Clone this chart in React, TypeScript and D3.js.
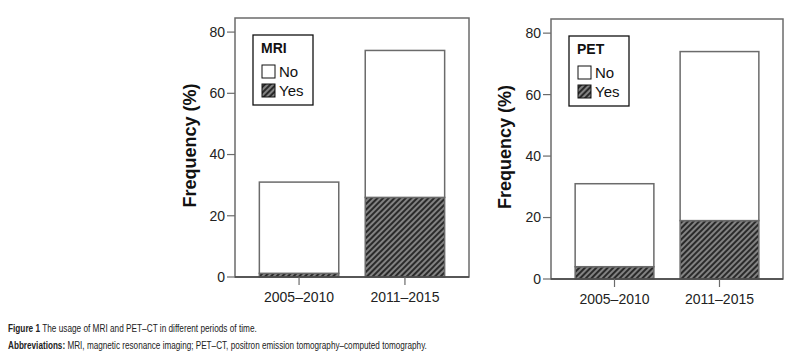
import React, { useEffect, useRef } from 'react';
import * as d3 from 'd3';

const categories = ['2005–2010', '2011–2015'];
const mriYes = [1.2, 26];
const mriTotal = [31, 74];
const petYes = [4, 19];
const petTotal = [31, 74];
const yTicks = [0, 20, 40, 60, 80];
const seriesNames = ['No', 'Yes'];

const W = 795;
const H = 359;
const frameColor = '#6b6b6b';
const font = '"Liberation Sans", Arial, sans-serif';

type PanelProps = {
  title: string;
  yes: number[];
  total: number[];
  x0: number;
  x1: number;
  top: number;
  bottom: number;
  labelX: number;
};

const Panel = ({ title, yes, total, x0, x1, top, bottom, labelX }: PanelProps) => {
  const x = d3.scaleBand<string>().domain(categories).range([x0, x1]).paddingInner(0.25).paddingOuter(0.23);
  const y = d3.scaleLinear().domain([0, 84.6]).range([bottom, top]);
  const bw = x.bandwidth();

  // stack No on top of Yes
  const rows = categories.map((c, i) => ({ cat: c, Yes: yes[i], No: total[i] - yes[i] }));
  const stacked = d3.stack<any>().keys(['Yes', 'No'])(rows);

  const lgX = x0 + 18;
  const lgY = top + 17;

  return (
    <g>
      <rect x={x0} y={top} width={x1 - x0} height={bottom - top} fill="none" stroke={frameColor} strokeWidth={1.5} />
      {stacked.map((s) =>
        s.map((d, i) => (
          <rect
            key={s.key + i}
            x={x(categories[i])}
            y={y(d[1])}
            width={bw}
            height={y(d[0]) - y(d[1])}
            fill={s.key === 'Yes' ? 'url(#hatch)' : '#fff'}
            stroke={frameColor}
            strokeWidth={1.5}
          />
        ))
      )}
      <line x1={x0} x2={x1} y1={bottom} y2={bottom} stroke="#444" strokeWidth={1.5} />
      {yTicks.map((t) => (
        <g key={t}>
          <line x1={x0 - 8} x2={x0} y1={y(t)} y2={y(t)} stroke={frameColor} strokeWidth={1.2} />
          <text x={x0 - 10} y={y(t)} dy="0.35em" textAnchor="end" fontSize={14} fill="#222" fontFamily={font}>
            {t}
          </text>
        </g>
      ))}
      {categories.map((c) => (
        <g key={c}>
          <line x1={x(c)! + bw / 2} x2={x(c)! + bw / 2} y1={bottom} y2={bottom + 8} stroke={frameColor} strokeWidth={1.2} />
          <text x={x(c)! + bw / 2} y={bottom + 25} textAnchor="middle" fontSize={14} fill="#222" fontFamily={font}>
            {c}
          </text>
        </g>
      ))}
      <text
        transform={`translate(${labelX},${(top + bottom) / 2 - 2}) rotate(-90)`}
        textAnchor="middle"
        dy="0.35em"
        fontSize={18}
        fontWeight="bold"
        fill="#111"
        fontFamily={font}
      >
        Frequency (%)
      </text>
      <rect x={lgX} y={lgY} width={60} height={70} fill="#fff" stroke="#111" strokeWidth={1.3} />
      <text x={lgX + 8} y={lgY + 18} fontSize={14} fontWeight="bold" fill="#111" fontFamily={font}>
        {title}
      </text>
      {seriesNames.map((s, i) => (
        <g key={s}>
          <rect
            x={lgX + 9}
            y={lgY + 30 + i * 19}
            width={13}
            height={13}
            fill={s === 'Yes' ? 'url(#hatch)' : '#fff'}
            stroke="#111"
            strokeWidth={1}
          />
          <text x={lgX + 26} y={lgY + 42 + i * 19} fontSize={15} fill="#111" fontFamily={font}>
            {s}
          </text>
        </g>
      ))}
    </g>
  );
};

// caption line squeezed horizontally to match the condensed journal font
const CaptionLine = ({ y, bold, rest, width }: { y: number; bold: string; rest: string; width: number }) => {
  const ref = useRef<SVGTextElement>(null);
  useEffect(() => {
    const el = ref.current;
    if (!el) return;
    const w = el.getComputedTextLength();
    const sx = w > 0 ? width / w : 1;
    d3.select(el).attr('transform', `translate(8,${y}) scale(${sx},1)`);
  }, [y, width]);
  return (
    <text ref={ref} transform={`translate(8,${y})`} fontFamily={font} fontSize={11.5} fill="#222">
      <tspan fontWeight="bold">{bold}</tspan>
      <tspan>{' ' + rest}</tspan>
    </text>
  );
};

export default function App() {
  return (
    <svg width={W} height={H} style={{ position: 'absolute', left: 0, top: 0, background: '#fff' }}>
      <defs>
        <pattern id="hatch" patternUnits="userSpaceOnUse" width={4} height={4} patternTransform="rotate(45)">
          <rect width={4} height={4} fill="#2a2a2a" />
          <line x1={1} x2={1} y1={0} y2={4} stroke="#a8a8a8" strokeWidth={1.4} />
        </pattern>
      </defs>
      <Panel title="MRI" yes={mriYes} total={mriTotal} x0={235} x1={469} top={18} bottom={277} labelX={190} />
      <Panel title="PET" yes={petYes} total={petTotal} x0={551} x1={783} top={19} bottom={279} labelX={505} />
      <CaptionLine y={332} bold="Figure 1" rest="The usage of MRI and PET–CT in different periods of time." width={249} />
      <CaptionLine
        y={349}
        bold="Abbreviations:"
        rest="MRI, magnetic resonance imaging; PET–CT, positron emission tomography–computed tomography."
        width={419}
      />
    </svg>
  );
}
